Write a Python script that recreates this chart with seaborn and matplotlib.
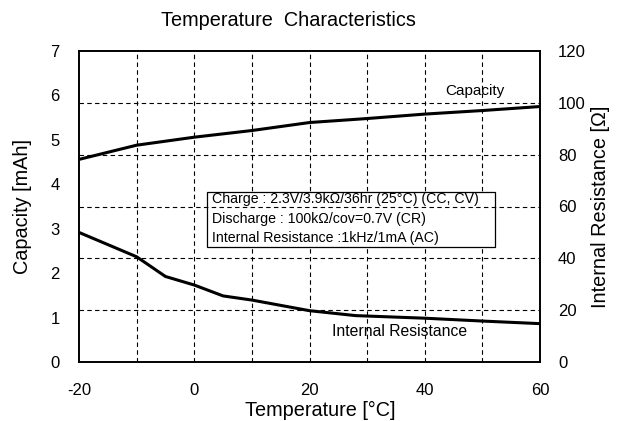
import matplotlib
matplotlib.use("Agg")
import matplotlib.pyplot as plt
from matplotlib.patches import Rectangle
import seaborn as sns
import pandas as pd

# values
cap_temps = [-20, -10, 0, 10, 20, 30, 40, 50, 60]
capacity = [4.56, 4.88, 5.06, 5.21, 5.39, 5.48, 5.58, 5.66, 5.75]
res_temps = [-20, -10, -5, 0, 5, 10, 20, 28, 40, 50, 60]
resistance = [50.0, 40.6, 33.0, 29.7, 25.5, 23.9, 19.8, 17.9, 16.9, 15.8, 14.8]
x_ticks = [-20, 0, 20, 40, 60]
cap_ticks = [0, 1, 2, 3, 4, 5, 6, 7]
res_ticks = [0, 20, 40, 60, 80, 100, 120]
note_lines = ["Charge : 2.3V/3.9k\u03a9/36hr (25\u00b0C) (CC, CV)",
              "Discharge : 100k\u03a9/cov=0.7V (CR)",
              "Internal Resistance :1kHz/1mA (AC)"]

sns.set_style("white")
plt.rcParams['font.family'] = ['Liberation Sans', 'DejaVu Sans']
plt.rcParams['axes.unicode_minus'] = False
plt.rcParams['text.color'] = 'black'
plt.rcParams['axes.labelcolor'] = 'black'
plt.rcParams['xtick.color'] = 'black'
plt.rcParams['ytick.color'] = 'black'

cap_df = pd.DataFrame({'temp': cap_temps, 'cap': capacity})
res_df = pd.DataFrame({'temp': res_temps, 'res': resistance})

W, H = 622, 421
x0, x1, y0, y1 = 79, 540, 51, 362
fig = plt.figure(figsize=(W / 100, H / 100), dpi=100)
ax = fig.add_axes([x0 / W, 1 - y1 / H, (x1 - x0) / W, (y1 - y0) / H])
ax2 = ax.twinx()


def ax_x(px):
    return (px - x0) / (x1 - x0)


def ax_y(py):
    return (y1 - py) / (y1 - y0)


sns.lineplot(data=cap_df, x='temp', y='cap', ax=ax, color='black', lw=2.2)
sns.lineplot(data=res_df, x='temp', y='res', ax=ax2, color='black', lw=2.2)

ax.set_xlim(-20, 60)
ax.set_ylim(0, 7)
ax2.set_ylim(0, 120)
ax.set_xticks(x_ticks)
ax.set_yticks(cap_ticks)
ax2.set_yticks(res_ticks)
ax.tick_params(axis='x', length=0, labelsize=12, pad=15)
ax.tick_params(axis='y', length=0, labelsize=12, pad=14)
ax2.tick_params(axis='y', length=0, labelsize=12, pad=13)

# grid: vertical every 10 degrees, horizontal follows the resistance axis
for xv in range(-10, 60, 10):
    ax.axvline(xv, color='black', lw=0.8, ls=(0, (4, 3)), zorder=0)
for yv in range(20, 120, 20):
    ax2.axhline(yv, color='black', lw=0.8, ls=(0, (4, 3)), zorder=0)

for a in (ax, ax2):
    for s in a.spines.values():
        s.set_color('black')
        s.set_linewidth(1.2)

ax.set_xlabel('Temperature [\u00b0C]', fontsize=14.3)
ax.xaxis.set_label_coords(ax_x(320), ax_y(410))
ax.set_ylabel('Capacity [mAh]', fontsize=14.3)
ax.yaxis.set_label_coords(ax_x(23), 0.5)
ax2.set_ylabel('Internal Resistance [\u03a9]', fontsize=14.3)
ax2.yaxis.set_label_coords(ax_x(600), 0.5)
ax.xaxis.label.set_va('center')
ax.yaxis.label.set_va('center')
ax2.yaxis.label.set_va('center')

fig.text(288 / W, 1 - 20 / H, 'Temperature  Characteristics',
         ha='center', va='center', fontsize=14.3)

ax.text(ax_x(475), ax_y(91), 'Capacity', transform=ax.transAxes,
        ha='center', va='center', fontsize=11)
ax.text(ax_x(400), ax_y(332), 'Internal Resistance', transform=ax.transAxes,
        ha='center', va='center', fontsize=11.3)

ax.add_patch(Rectangle((ax_x(207), ax_y(247)), ax_x(495) - ax_x(207),
                       ax_y(192) - ax_y(247), transform=ax.transAxes,
                       fc='white', ec='black', lw=0.9, zorder=3))
for line, py in zip(note_lines, [199.5, 219, 238]):
    ax.text(ax_x(212), ax_y(py), line, transform=ax.transAxes, ha='left',
            va='center', fontsize=10.2, zorder=4)

fig.savefig('out.png', dpi=100)
